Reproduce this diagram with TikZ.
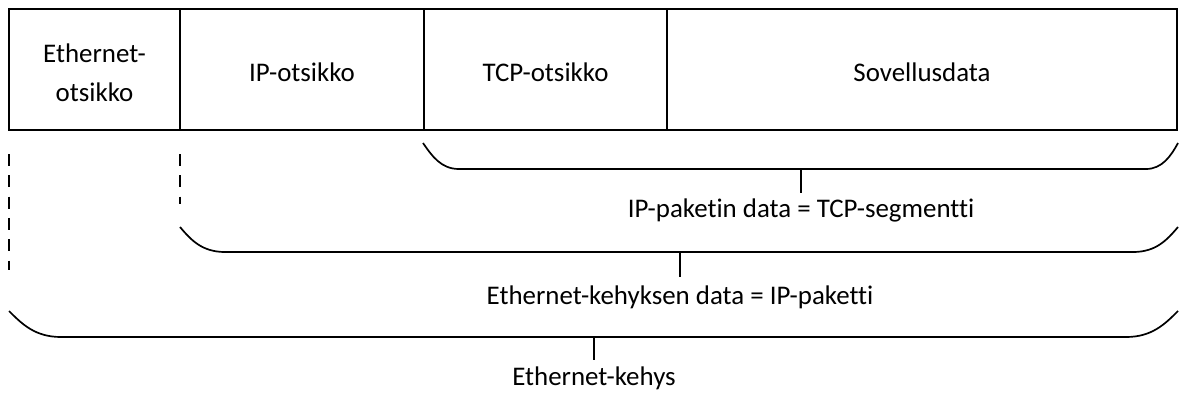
\documentclass[tikz,border=0pt]{standalone}
\usepackage{fontspec}
\setmainfont{Carlito}[Ligatures=NoCommon]
\begin{document}
\begin{tikzpicture}[x=1bp, y=-1bp,
  line width=1.7bp,
  cell/.style={draw, rectangle, inner sep=0pt, outer sep=0pt, minimum height=121bp},
  txt/.style={inner sep=0pt, font=\fontsize{27}{39}\selectfont},
  brace/.style={line width=1.7bp, line join=round},
  guide/.style={line width=1.4bp, dash pattern=on 12bp off 9.3bp}]
\useasboundingbox (0,0) rectangle (1179,394);

% frame cells
\node[cell, minimum width=171bp] (eth) at (94.5,69.5) {};
\node[cell, minimum width=244bp] (ip)  at (302,69.5) {};
\node[cell, minimum width=243bp] (tcp) at (545.5,69.5) {};
\node[cell, minimum width=510bp] (app) at (922,69.5) {};

% cell labels
\node[txt, align=center, anchor=center] (ethT) at (94.5,73) {Ethernet-\\otsikko};
\node[txt, anchor=base] (ipT)  at (302,81) {IP-otsikko};
\node[txt, anchor=base] (tcpT) at (545.5,81) {TCP-otsikko};
\node[txt, anchor=base] (appT) at (922,81) {Sovellusdata};

% dashed guides below the header boundaries
\coordinate (g1a) at (9,154);   \coordinate (g1b) at (9,270);
\coordinate (g2a) at (180,154); \coordinate (g2b) at (180,204);
\draw[guide] (g1a) -- (g1b);
\draw[guide] (g2a) -- (g2b);

% brace: TCP segment
\draw[brace] (423,143) .. controls (432,156) and (441,169) .. (459,169)
  -- (1146,169) .. controls (1162,169) and (1171,156) .. (1178,143);
\coordinate (b1) at (801,169);
\node[txt, anchor=base] (l1) at (801,217) {IP-paketin data = TCP-segmentti};
\draw (b1) -- (801,193);

% brace: IP packet
\draw[brace] (180,227) .. controls (191,240) and (202,252) .. (225,252)
  -- (1133,252) .. controls (1156,252) and (1167,240) .. (1178,227);
\coordinate (b2) at (680,252);
\node[txt, anchor=base] (l2) at (680,304) {Ethernet-kehyksen data = IP-paketti};
\draw (b2) -- (680,277);

% brace: Ethernet frame
\draw[brace] (9,311) .. controls (22,324) and (35,337) .. (61,337)
  -- (1126,337) .. controls (1152,337) and (1165,324) .. (1178,311);
\coordinate (b3) at (594,337);
\node[txt, anchor=base] (l3) at (594,385) {Ethernet-kehys};
\draw (b3) -- (594,360);
\end{tikzpicture}
\end{document}
